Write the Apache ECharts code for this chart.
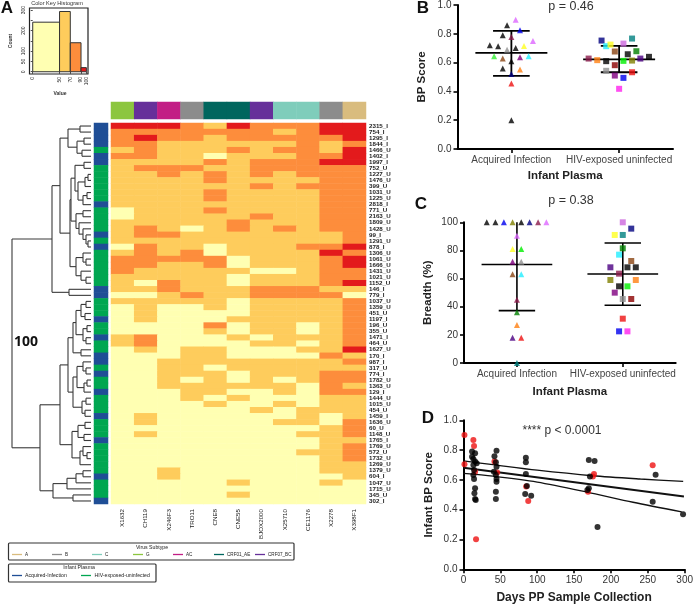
<!DOCTYPE html>
<html><head><meta charset="utf-8">
<style>html,body{margin:0;padding:0;background:#fff}#c{width:696px;height:605px}</style>
<script src="https://cdn.jsdelivr.net/npm/echarts@6/dist/echarts.min.js"></script>
</head><body><div id="c"></div>
<script>
const FONT='"Liberation Sans",Arial,sans-serif';
// ---------- A: colour key histogram
const histEdges=[0,50,70,90,100];
const histCounts=[241,293,141,20];
const histColors=['#FFFFB2','#FECC5C','#FD8D3C','#E31A1C'];
const histYTicks=[0,50,100,150,200,250,300];
const histYLabels=[0,50,100,200,300];
// ---------- A: heat map
const virusLabels=['X1632','CH119','X246F3','TRO11','CNE8','CNE55','BJOX2000','X25710','CE1176','X2278','X398F1'];
const virusSubtype=['G','CRF07_BC','AC','B','CRF01_AE','CRF01_AE','CRF07_BC','C','C','B','A'];
const subtypeNames=['A','B','C','G','AC','CRF01_AE','CRF07_BC'];
const subtypeColors=['#D9BC7E','#8C8C8C','#7FCDBB','#8CC63F','#C21E85','#00665E','#66309A'];
const infantLabels=['2315_I','754_I','1295_I','1844_I','1466_U','1402_I','1997_I','752_U','1227_U','1476_U','399_U','1031_U','1225_U','2818_I','771_U','2163_U','1809_U','1428_U','99_I','1291_U','878_I','1306_U','1061_U','1666_U','1431_U','1021_U','1152_U','146_I','779_I','1037_U','1359_U','451_U','1197_I','196_U','355_U','1471_I','464_U','1627_U','170_I','987_I','317_U','774_I','1782_U','1363_U','129_I','1444_U','1015_U','454_U','1459_I','1636_U','60_U','1148_U','1765_I','1769_U','572_U','1732_U','1269_U','1379_U','604_I','1047_U','1715_U','345_U','302_I'];
const heatRows=['33321322233','22222221233','23221222223','22111111212','12111212213','22110111223','11112122233','12221122222','11212121222','11112111122','11111121222','11112111122','11112111122','11111111122','01112111122','01111121122','11111211122','12101212122','12211111112','11111111112','02110111223','12120111132','22222011123','22112011123','21111100122','11111011122','10211011123','11211122211','00121122220','11111011112','01001011112','01000011112','01000111112','00002011012','00001011012','12000101112','12000011012','01011000113','00011000021','00111111112','00110111111','00111011122','00101010122','00111111021','00011001022','00010100011','00001001011','00000010111','01000000101','01000001102','00000000012','01000000112','00000000011','00000000012','00000000112','00000000012','00000000011','00100000011','00100000001','00000100010','00000000000','00000100000','00000000000'];
const heatColors=['#FFFFB2','#FECC5C','#FD8D3C','#E31A1C'];
const groupNames=['Acquired-Infection','HIV-exposed-uninfected'];
const groupColors=['#1F4E96','#00A651'];
// dendrogram: [height, childA, childB]; a number is a row index
const dendroTree=[79,
 [39,
  [31,
   [23,[11,0,1],[14,[7,2,3],[9,4,5]]],
   [21,
    [20,
     [16,[7,6,7],[13,[6,[3,8,9],10],[8,[4,11,12],13]]],
     [15,[8,14,15],[12,16,[8,17,[5,18,[3,19,20]]]]]],
    [15,[8,21,[5,22,23]],[10,24,[5,25,26]]]]],
  [22,27,28]],
 [51,
  [31,
   [23,
    [18,[15,[10,[5,29,30],[6,31,32]],[8,[4,33,34],[5,35,36]]],[10,37,38]],
    [18,[14,[8,39,[5,40,41]],[7,[4,42,43],44]],[9,[5,45,46],[6,47,48]]]],
   [19,[13,[6,49,50],[7,51,52]],[11,[8,53,[4,54,55]],56]]],
  [38,[24,[15,[8,57,58],59],60],[18,61,62]]]];
// ---------- B
const pointColors={k:'#000000',v:'#DD66FF',u:'#0000EE',m:'#8B1A4B',y:'#FFFF22',e:'#909090',g:'#33EE33',b:'#8B4513',p:'#800080',c:'#22EEFF',o:'#FF7F11',n:'#000080',r:'#EE1111',t:'#008080',G:'#008000',l:'#00EE00',O:'#808000',i:'#4B0082',d:'#8B0000',M:'#FF22EE',V:'#CC66DD'};
const bAcqX=[.96,1.04,1.08,.92,1,.8,.877,1.2,1.117,1.04,.96,.84,.92,1.08,1.16,1,.92,1.08,1,1,1];
const bAcqY=[.859,.898,.824,.79,.778,.72,.714,.75,.716,.702,.69,.644,.628,.637,.644,.61,.559,.552,.52,.455,.2];
const bAcqC='kvukmkkvykegbpckkonrk'.split('');
const bHevX=[1.837,1.88,1.92,2.04,2.12,1.96,2.16,2.08,2.277,1.717,1.797,1.88,2.04,2.12,2.197,1.96,1.88,1.96,2.04,2.12,2];
const bHevY=[.753,.714,.725,.732,.767,.677,.679,.658,.64,.628,.617,.61,.612,.614,.628,.582,.543,.51,.494,.533,.418];
const bHevC='ncyVtbGkkmoklOidepurM'.split('');
const bStats=[{x:1,mean:.667,upper:.82,lower:.508},{x:2,mean:.623,upper:.716,lower:.533}];
// ---------- C
const cAcqX=[.715,.797,.877,.959,1.041,1.12,1.2,1.278,1,.959,1.041,.959,1.041,.959,1.041,1,1,1,.959,1.041,1];
const cAcqY=[100,100,100,100,100,100,100,100,90.5,81,81,72,72,63,63,45,36,27,18,18,0];
const cAcqC='kkuOknmvvylpebcmGoirt'.split('');
const cHevX=[2,2.08,1.924,2,2,1.965,2.08,2.044,2.123,1.883,1.965,1.883,2.123,1.965,2.044,1.924,2,2.08,2,1.965,2.044];
const cHevY=[100,95.5,91,91,81.5,77,72.5,68,68,68,63.5,59,59,54.5,54.5,50,45.5,45.5,31.5,22.5,22.5];
const cHevC='VnytGcbkkimOoklpedruM'.split('');
const cStats=[{x:1,mean:70,upper:100,lower:37.2},{x:2,mean:63.3,upper:85.3,lower:41}];
const groupAxisLabels=['Acquired Infection','HIV-exposed uninfected'];
// ---------- D
const dRedDays=[1.3,13.4,14.3,1.3,15.7,17,42,45.7,85,87.8,169,175.5,177,256.6];
const dRedScores=[.902,.868,.828,.705,.655,.201,.723,.649,.555,.459,.521,.622,.64,.698];
const dBlackDays=[11.6,15.7,11.6,13.4,15.7,17.9,13.4,14.3,13.4,14.3,15.7,14.8,15.7,16.6,44.8,42,43.9,44.8,41.2,43.9,44.8,44.8,43.9,43.9,84.6,84.6,84.6,86,83.7,91.8,170,177.8,171.5,170,168,181.8,260.6,256.6,297.8];
const dBlackScores=[.79,.779,.756,.74,.723,.711,.7,.667,.633,.606,.544,.51,.472,.465,.796,.758,.718,.689,.655,.633,.606,.588,.521,.472,.749,.718,.64,.559,.506,.494,.734,.727,.622,.544,.532,.284,.635,.454,.369];
const dFitDays=[0,299];
const dFitScores=[.682,.488];
const dUpperDays=[0,40,100,175,240,298];
const dUpperScores=[.727,.702,.665,.628,.606,.59];
const dLowerDays=[0,40,100,166,230,296];
const dLowerScores=[.644,.625,.585,.52,.45,.385];

// ---------- build
const grids=[
 {left:29.5,top:8,width:58.5,height:66,show:true,borderColor:'#222',borderWidth:1.2,backgroundColor:'transparent'}, //0 hist
 {left:12,top:123,width:79,height:381}, //1 dendro
 {left:94,top:123,width:14,height:381}, //2 side
 {left:111,top:123,width:255,height:381}, //3 heat
 {left:111,top:102,width:255,height:17}, //4 top
 {left:457.5,top:5,width:215.5,height:144}, //5 B
 {left:464,top:222.3,width:211.7,height:140.7}, //6 C
 {left:463.5,top:420.3,width:223.2,height:149} //7 D
];
const hiddenCat=(g,data,inv)=>({type:'category',gridIndex:g,data,show:false,inverse:!!inv});
const smallAxisText={fontFamily:FONT,fontSize:5,color:'#222'};
const axisStyle={axisLine:{onZero:false,lineStyle:{color:'#000',width:2}},axisTick:{length:4,lineStyle:{color:'#000',width:1.6}},splitLine:{show:false}};
const panelX=(g,name,gap)=>Object.assign({type:'value',gridIndex:g,min:.5,max:2.5,name,nameLocation:'middle',nameGap:gap,
  nameTextStyle:{fontFamily:FONT,fontWeight:'bold',fontSize:11.5,color:'#222'},
  axisLabel:{customValues:[1,2],formatter:v=>groupAxisLabels[v-1],margin:6,fontFamily:FONT,fontSize:10,color:'#444'}},axisStyle,{axisTick:Object.assign({},axisStyle.axisTick,{customValues:[1,2]})});
const panelY=(g,name,gap,max,iv,fmt)=>Object.assign({type:'value',gridIndex:g,min:0,max,interval:iv,name,nameLocation:'middle',nameGap:gap,
  nameTextStyle:{fontFamily:FONT,fontWeight:'bold',fontSize:11.5,color:'#222'},
  axisLabel:{formatter:fmt,margin:6,fontFamily:FONT,fontSize:10,color:'#333'}},axisStyle);

const xAxis=[
 {type:'value',gridIndex:0,min:-6,max:103,axisLine:{show:false},splitLine:{show:false},
  axisTick:{customValues:histEdges,length:2,lineStyle:{color:'#222',width:.8}},
  axisLabel:Object.assign({customValues:histEdges,rotate:90,margin:3},smallAxisText)},
 {type:'value',gridIndex:1,min:0,max:79,inverse:true,show:false},
 hiddenCat(2,['group']),
 {type:'category',gridIndex:3,data:virusLabels,axisLine:{show:false},axisTick:{show:false},
  axisLabel:{rotate:90,interval:0,margin:5,fontFamily:FONT,fontSize:6.2,color:'#222'}},
 hiddenCat(4,virusLabels),
 panelX(5,'Infant Plasma',21),
 panelX(6,'Infant Plasma',23),
 Object.assign({type:'value',gridIndex:7,min:0,max:300,interval:50,name:'Days PP Sample Collection',nameLocation:'middle',nameGap:22,
  nameTextStyle:{fontFamily:FONT,fontWeight:'bold',fontSize:12,color:'#222'},
  axisLabel:{margin:6,fontFamily:FONT,fontSize:10,color:'#333'}},axisStyle)
];
const yAxis=[
 {type:'value',gridIndex:0,min:-11,max:310,axisLine:{show:false},splitLine:{show:false},
  axisTick:{customValues:histYTicks,length:2,lineStyle:{color:'#222',width:.8}},
  axisLabel:Object.assign({customValues:histYLabels,rotate:90,margin:3},smallAxisText)},
 {type:'value',gridIndex:1,min:-.5,max:62.5,inverse:true,show:false},
 hiddenCat(2,infantLabels,true),
 {type:'category',gridIndex:3,data:infantLabels,inverse:true,position:'right',axisLine:{show:false},axisTick:{show:false},
  axisLabel:{interval:0,margin:3,fontFamily:FONT,fontSize:6.2,fontWeight:'bold',color:'#222'}},
 hiddenCat(4,['subtype']),
 panelY(5,'BP Score',30,1,.2,v=>v.toFixed(1)),
 panelY(6,'Breadth (%)',30,100,20,v=>v),
 panelY(7,'Infant BP Score',29,1,.2,v=>v.toFixed(1))
];

// dendrogram segments from the tree
const dendroSegs=[];
(function walk(n){
  if(typeof n==='number')return {h:0,y:n};
  const a=walk(n[1]),b=walk(n[2]),h=n[0];
  dendroSegs.push([a.h,a.y,h,a.y],[b.h,b.y,h,b.y],[h,a.y,h,b.y]);
  return {h,y:(a.y+b.y)/2};
})(dendroTree);

const heatData=[];
heatRows.forEach((r,i)=>r.split('').forEach((c,j)=>heatData.push({value:[j,i,+c],itemStyle:{color:heatColors[+c]}})));
const sideData=infantLabels.map((l,i)=>({value:[0,i,1],itemStyle:{color:groupColors[l.endsWith('_I')?0:1]}}));
const topData=virusSubtype.map((s,j)=>({value:[j,0,1],itemStyle:{color:subtypeColors[subtypeNames.indexOf(s)]}}));
const heat=(g,data)=>({type:'heatmap',xAxisIndex:g,yAxisIndex:g,data,silent:true,itemStyle:{borderWidth:0}});

const segLine=(g,data,width,color)=>({type:'custom',xAxisIndex:g,yAxisIndex:g,data,silent:true,clip:false,z:3,
  encode:{x:[0,2],y:[1,3]},
  renderItem:(p,api)=>{const a=api.coord([api.value(0),api.value(1)]),b=api.coord([api.value(2),api.value(3)]);
    return {type:'line',shape:{x1:a[0],y1:a[1],x2:b[0],y2:b[1]},style:{stroke:color,lineWidth:width,lineCap:'butt'}};}});
function statSegs(stats,meanW,capW,topV){
  const out=[];
  stats.forEach(s=>{
    out.push([s.x-meanW,s.mean,s.x+meanW,s.mean],[s.x,s.lower,s.x,s.upper],[s.x-capW,s.lower,s.x+capW,s.lower]);
    if(s.upper<topV)out.push([s.x-capW,s.upper,s.x+capW,s.upper]);
  });
  return out;
}
const pts=(g,xs,ys,cs,symbol,size)=>({type:'scatter',xAxisIndex:g,yAxisIndex:g,symbol,symbolSize:size,clip:false,silent:true,z:5,
  data:xs.map((x,i)=>({value:[x,ys[i]],itemStyle:{color:pointColors[cs[i]]}}))});
const dPts=(xs,ys,color)=>({type:'scatter',xAxisIndex:7,yAxisIndex:7,symbol:'circle',symbolSize:6,clip:false,silent:true,z:5,itemStyle:{color},data:xs.map((x,i)=>[x,ys[i]])});
const dLine=(xs,ys,w,smooth)=>({type:'line',xAxisIndex:7,yAxisIndex:7,symbol:'none',smooth,silent:true,z:4,lineStyle:{color:'#111',width:w},data:xs.map((x,i)=>[x,ys[i]])});

const series=[
 {type:'custom',xAxisIndex:0,yAxisIndex:0,silent:true,clip:false,encode:{x:[0,1],y:2},
  data:histCounts.map((c,i)=>[histEdges[i],histEdges[i+1],c]),
  renderItem:(p,api)=>{const a=api.coord([api.value(0),api.value(2)]),b=api.coord([api.value(1),0]);
    return {type:'rect',shape:{x:a[0],y:a[1],width:b[0]-a[0],height:b[1]-a[1]},style:{fill:histColors[p.dataIndex],stroke:'#333',lineWidth:1}};}},
 segLine(1,dendroSegs,1.1,'#3a3a3a'),
 heat(2,sideData),heat(3,heatData),heat(4,topData),
 pts(5,bAcqX,bAcqY,bAcqC,'triangle',6),pts(5,bHevX,bHevY,bHevC,'rect',6),
 segLine(5,statSegs(bStats,.334,.17,1),1.8,'#000'),
 pts(6,cAcqX,cAcqY,cAcqC,'triangle',6),pts(6,cHevX,cHevY,cHevC,'rect',6),
 segLine(6,statSegs(cStats,.334,.172,100),1.6,'#000'),
 dPts(dRedDays,dRedScores,'#EE1111'),dPts(dBlackDays,dBlackScores,'#000'),
 dLine(dFitDays,dFitScores,2,false),dLine(dUpperDays,dUpperScores,1.3,.3),dLine(dLowerDays,dLowerScores,1.3,.3)
];

// text & legend boxes
const txt=(x,y,text,font,fill,align,rot)=>({type:'text',x,y,rotation:rot||0,silent:true,z:10,style:{text,font,fill:fill||'#222',textAlign:align||'center',textVerticalAlign:'middle'}});
const legLine=(x,y,color)=>({type:'line',silent:true,z:10,shape:{x1:x,y1:y,x2:x+10,y2:y},style:{stroke:color,lineWidth:1.3}});
const legBox=(x,y,w,h)=>({type:'rect',silent:true,z:9,shape:{x,y,width:w,height:h,r:1},style:{fill:'#fff',stroke:'#333',lineWidth:1.2}});
const legFont='5.2px '+FONT;
const subtypeFont='4.6px '+FONT;
const subtypeLegendX=[12,52,92,133,173,214,255];
const graphic=[
 txt(7,8,'A','bold 17px '+FONT,'#111'),
 txt(423,8,'B','bold 17px '+FONT,'#111'),
 txt(421,204,'C','bold 17px '+FONT,'#111'),
 txt(428,418,'D','bold 17px '+FONT,'#111'),
 txt(57,3,'Color Key Histogram','5.6px '+FONT,'#333'),
 txt(11,41,'Count','bold 5px '+FONT,'#333','center',Math.PI/2),
 txt(60,94,'Value','bold 5px '+FONT,'#333'),
 txt(14,342,'100','bold 14px "Open Sans",'+FONT,'#111','left'),
 txt(571,7,'p = 0.46','12.5px '+FONT,'#333'),
 txt(571,201,'p = 0.38','12.5px '+FONT,'#333'),
 txt(562,431,'**** p < 0.0001','12px '+FONT,'#333'),
 legBox(8.5,543,285.5,17),
 txt(152,548,'Virus Subtype',legFont),
 ...subtypeNames.flatMap((n,i)=>[legLine(subtypeLegendX[i],554.5,subtypeColors[i]),txt(subtypeLegendX[i]+13,554.5,n,subtypeFont,'#222','left')]),
 legBox(8.5,564,147.5,18),
 txt(79,568,'Infant Plasma',legFont),
 legLine(12,575.5,groupColors[0]),txt(25,575.5,groupNames[0],legFont,'#222','left'),
 legLine(81,575.5,groupColors[1]),txt(94.5,575.5,groupNames[1],legFont,'#222','left')
];

const chart=echarts.init(document.getElementById('c'),null,{renderer:'canvas',width:696,height:605});
chart.setOption({animation:false,backgroundColor:'#fff',grid:grids,xAxis,yAxis,series,graphic});
</script></body></html>
